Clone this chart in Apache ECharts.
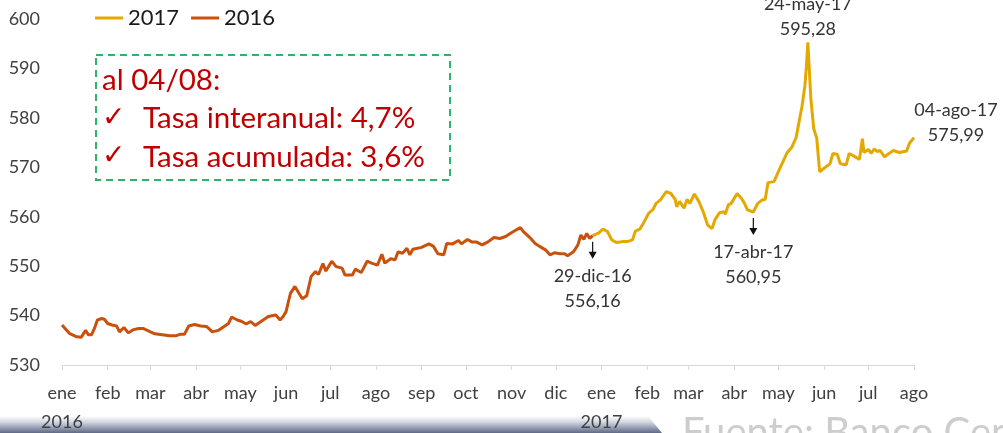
<!DOCTYPE html>
<html>
<head>
<meta charset="utf-8">
<script src="https://cdn.jsdelivr.net/npm/echarts@6/dist/echarts.min.js"></script>
<style>
  html, body { margin: 0; padding: 0; background: #fff; }
  #chart { width: 1003px; height: 433px; }
</style>
</head>
<body>
<div id="chart"></div>
<script>
// tipo de cambio diario (colones por dólar)
const dates2016 = [
  '2016-01-04','2016-01-07','2016-01-09','2016-01-14','2016-01-17','2016-01-20','2016-01-22','2016-01-24','2016-01-26','2016-01-28','2016-01-31',
  '2016-02-02','2016-02-04','2016-02-07','2016-02-10','2016-02-12','2016-02-15','2016-02-18','2016-02-21','2016-02-25','2016-02-28',
  '2016-03-04','2016-03-07','2016-03-12','2016-03-17','2016-03-21','2016-03-22','2016-03-24','2016-03-27','2016-03-30',
  '2016-04-03','2016-04-07','2016-04-11','2016-04-15','2016-04-19','2016-04-22','2016-04-26','2016-04-28',
  '2016-05-02','2016-05-05','2016-05-08','2016-05-11','2016-05-14','2016-05-18','2016-05-23','2016-05-28','2016-05-31',
  '2016-06-02','2016-06-04','2016-06-06','2016-06-07','2016-06-10','2016-06-15','2016-06-18','2016-06-21','2016-06-24','2016-06-26','2016-06-29',
  '2016-07-01','2016-07-05','2016-07-08','2016-07-12','2016-07-14','2016-07-19','2016-07-21','2016-07-25','2016-07-29',
  '2016-08-01','2016-08-05','2016-08-08','2016-08-10','2016-08-14','2016-08-17','2016-08-19','2016-08-22','2016-08-25','2016-08-27','2016-08-29',
  '2016-09-04','2016-09-06','2016-09-09','2016-09-12','2016-09-15','2016-09-19','2016-09-21','2016-09-25','2016-09-29',
  '2016-10-01','2016-10-05','2016-10-08','2016-10-11','2016-10-15','2016-10-19','2016-10-23','2016-10-27','2016-10-31',
  '2016-11-03','2016-11-07','2016-11-10','2016-11-12','2016-11-17','2016-11-20','2016-11-23','2016-11-27','2016-11-30',
  '2016-12-03','2016-12-07','2016-12-10','2016-12-12','2016-12-16','2016-12-19','2016-12-21','2016-12-23','2016-12-25','2016-12-27','2016-12-29'
];
const values2016 = [
  538.1, 537.1, 536.4, 535.7, 535.6, 537.0, 536.1, 536.1, 537.4, 539.1, 539.4,
  539.2, 538.4, 538.1, 537.9, 536.7, 537.6, 536.5, 537.1, 537.4, 537.4,
  536.7, 536.3, 536.1, 535.9, 535.9, 536.3, 536.2, 536.2, 537.9,
  538.2, 537.9, 537.8, 536.7, 537.0, 537.6, 538.4, 539.7,
  539.1, 538.8, 538.3, 538.8, 538.0, 538.8, 539.8, 540.1, 539.1,
  539.8, 540.8, 543.3, 544.5, 545.9, 543.4, 544.0, 547.9, 548.9, 548.3, 550.5,
  549.0, 551.0, 549.9, 549.6, 548.2, 548.2, 549.4, 548.7, 551.0,
  550.6, 550.2, 552.4, 550.6, 551.5, 551.3, 552.9, 552.6, 553.6, 552.3, 553.4,
  553.8, 554.1, 554.5, 554.0, 552.5, 552.3, 554.6, 554.5, 555.2,
  554.5, 555.4, 554.9, 554.9, 554.3, 554.9, 555.8, 555.6, 556.0,
  556.6, 557.3, 557.8, 557.0, 555.6, 554.6, 554.0, 553.3, 552.3,
  552.7, 552.5, 552.5, 552.1, 552.9, 554.3, 556.3, 555.4, 556.6, 555.6, 556.16
];
// la serie 2017 arranca en el último dato de 2016 para que la línea sea continua
const dates2017 = [
  '2016-12-29',
  '2017-01-02','2017-01-05','2017-01-08','2017-01-11','2017-01-14','2017-01-19','2017-01-22','2017-01-25','2017-01-27','2017-01-30',
  '2017-02-02','2017-02-05','2017-02-08','2017-02-10','2017-02-13','2017-02-17','2017-02-20','2017-02-23','2017-02-24','2017-02-26',
  '2017-03-01','2017-03-03','2017-03-05','2017-03-08','2017-03-11','2017-03-14','2017-03-17','2017-03-20','2017-03-22','2017-03-25','2017-03-28','2017-03-29','2017-03-31',
  '2017-04-02','2017-04-06','2017-04-09','2017-04-11','2017-04-13','2017-04-17','2017-04-20','2017-04-23','2017-04-25','2017-04-27',
  '2017-05-01','2017-05-05','2017-05-10','2017-05-13','2017-05-16','2017-05-20','2017-05-22','2017-05-23','2017-05-24','2017-05-26','2017-05-28','2017-05-30',
  '2017-06-01','2017-06-04','2017-06-08','2017-06-10','2017-06-13','2017-06-15','2017-06-19','2017-06-21','2017-06-24','2017-06-28','2017-06-30',
  '2017-07-01','2017-07-04','2017-07-06','2017-07-08','2017-07-10','2017-07-12','2017-07-15','2017-07-18','2017-07-21','2017-07-25','2017-07-30',
  '2017-08-01','2017-08-04'
];
const values2017 = [
  556.16,
  556.7, 557.5, 557.0, 555.3, 554.8, 555.0, 555.0, 555.3, 557.1, 557.5,
  559.0, 560.7, 561.5, 562.7, 563.4, 565.1, 564.7, 563.5, 562.0, 563.1,
  561.7, 563.5, 562.7, 564.6, 563.1, 561.0, 558.3, 557.6, 559.4, 560.8, 561.0, 560.5, 562.4,
  562.7, 564.7, 563.7, 562.7, 561.4, 560.95, 562.7, 563.4, 563.5, 566.9,
  567.1, 569.8, 573.0, 574.0, 576.0, 582.3, 586.5, 590.4, 595.28, 584.0, 577.8, 575.9,
  569.1, 569.8, 570.7, 572.8, 572.6, 570.7, 570.5, 572.8, 572.3, 571.6, 575.8,
  573.0, 573.6, 572.8, 573.7, 573.2, 573.4, 572.1, 572.8, 573.4, 573.0, 573.3,
  574.9, 575.99
];

// marcas mensuales: el eje de fechas las pone cada mes desde el primer dato (día 4)
const tickDates = [
  '2016-01-04','2016-02-04','2016-03-04','2016-04-04','2016-05-04','2016-06-04','2016-07-04','2016-08-04','2016-09-04','2016-10-04','2016-11-04','2016-12-04',
  '2017-01-04','2017-02-04','2017-03-04','2017-04-04','2017-05-04','2017-06-04','2017-07-04','2017-08-04'
];
const tickLabels = ['ene','feb','mar','abr','may','jun','jul','ago','sep','oct','nov','dic',
                    'ene','feb','mar','abr','may','jun','jul','ago'];
const yearLabels = {0: '2016', 12: '2017'};

// puntos señalados
const noteDates = ['2016-12-29', '2017-04-17', '2017-05-24', '2017-08-04'];
const noteValues = [556.16, 560.95, 595.28, 575.99];
const noteTexts = ['29-dic-16\n556,16', '17-abr-17\n560,95', '24-may-17\n595,28', '04-ago-17\n575,99'];
const notePlaces = ['below', 'below', 'above', 'right'];

const boxLines = ['al 04/08:', 'Tasa interanual: 4,7%', 'Tasa acumulada: 3,6%'];

const FONT = 'Lato, "Open Sans", sans-serif';
const DAY = 86400000;
const ts = s => new Date(s + 'T00:00:00Z').getTime();
const pairs = (d, v) => d.map((s, i) => [ts(s), v[i]]);
const tickValues = tickDates.map(ts);

const chart = echarts.init(document.getElementById('chart'));

const option = {
  backgroundColor: '#fff',
  animation: false,
  textStyle: { fontFamily: FONT },
  color: ['#e4a900', '#c9510c'],
  legend: {
    data: ['2017', '2016'],
    left: 95,
    top: 7,
    padding: 0,
    icon: 'rect',
    itemWidth: 28,
    itemHeight: 3,
    itemGap: 12,
    textStyle: { fontSize: 22, color: '#1a1a1a', fontFamily: FONT }
  },
  grid: { left: 62, right: 89, top: 19, bottom: 68, outerBoundsMode: 'none' },
  xAxis: {
    // eje numérico sobre marcas de tiempo (ms)
    type: 'value',
    min: tickValues[0],
    max: tickValues[tickValues.length - 1],
    splitLine: { show: false },
    axisLine: { lineStyle: { color: '#d9d9d9', width: 1 } },
    axisTick: {
      show: true,
      length: 5,
      customValues: tickValues,
      lineStyle: { color: '#d9d9d9' }
    },
    axisLabel: {
      customValues: tickValues,
      fontSize: 18,
      color: '#404040',
      margin: 14,
      lineHeight: 29,
      hideOverlap: false,
      showMinLabel: true,
      showMaxLabel: true,
      formatter: function (value) {
        let idx = tickValues.findIndex(t => Math.abs(t - value) < DAY / 2);
        if (idx < 0) return '';
        return yearLabels[idx] ? tickLabels[idx] + '\n' + yearLabels[idx] : tickLabels[idx];
      }
    }
  },
  yAxis: {
    type: 'value',
    min: 530,
    max: 600,
    interval: 10,
    axisLine: { show: false },
    axisTick: { show: false },
    splitLine: { show: false },
    axisLabel: { fontSize: 18, color: '#404040', margin: 22 }
  },
  series: [
    {
      name: '2017',
      type: 'line',
      data: pairs(dates2017, values2017),
      showSymbol: false,
      lineStyle: { width: 3 },
      z: 3
    },
    {
      name: '2016',
      type: 'line',
      data: pairs(dates2016, values2016),
      showSymbol: false,
      lineStyle: { width: 3 },
      z: 2
    }
  ]
};
chart.setOption(option);

// cuadro de texto, flechas y etiquetas, ubicadas con la escala del gráfico
const graphics = [];

graphics.push({
  type: 'polygon',
  z: -10,
  silent: true,
  shape: { points: [[0, 416], [648, 416], [662, 433], [0, 433]] },
  style: {
    fill: new echarts.graphic.LinearGradient(0, 0, 0, 1, [
      { offset: 0, color: '#ffffff' },
      { offset: 0.35, color: '#d3d8e2' },
      { offset: 1, color: '#5e6a87' }
    ])
  }
});
graphics.push({
  type: 'text',
  z: -10,
  silent: true,
  style: { text: 'Fuente: Banco Central', x: 682, y: 413, fontSize: 40, fontFamily: FONT, fill: '#cdcdcd' }
});

graphics.push({
  type: 'rect',
  shape: { x: 96, y: 55, width: 354, height: 125 },
  style: { fill: 'none', stroke: '#2fb36b', lineWidth: 2, lineDash: [7, 5] }
});
graphics.push({
  type: 'text',
  style: { text: boxLines[0], x: 102, y: 80, verticalAlign: 'middle', fontSize: 29.5, fontFamily: FONT, fill: '#c00000' }
});
[1, 2].forEach(function (i) {
  const y = 80 + i * 38.5;
  graphics.push({
    type: 'text',
    style: { text: '✓', x: 102, y: y, verticalAlign: 'middle', fontSize: 28, fontWeight: 'bold', fontFamily: '"DejaVu Sans"', fill: '#c00000' }
  });
  graphics.push({
    type: 'text',
    style: { text: boxLines[i], x: 143, y: y, verticalAlign: 'middle', fontSize: 29.5, fontFamily: FONT, fill: '#c00000' }
  });
});

noteDates.forEach(function (d, i) {
  const p = chart.convertToPixel({ gridIndex: 0 }, [ts(d), noteValues[i]]);
  const px = p[0], py = p[1];
  const place = notePlaces[i];
  const textStyle = { text: noteTexts[i], fontSize: 18, fontFamily: FONT, fill: '#333', lineHeight: 25, align: 'center' };
  if (place === 'below') {
    graphics.push({
      type: 'line',
      shape: { x1: px, y1: py + 6, x2: px, y2: py + 18 },
      style: { stroke: '#111', lineWidth: 1.2 }
    });
    graphics.push({
      type: 'polygon',
      shape: { points: [[px - 4, py + 16], [px + 4, py + 16], [px, py + 23]] },
      style: { fill: '#111' }
    });
    textStyle.x = px;
    textStyle.y = py + 28;
    textStyle.verticalAlign = 'top';
  } else if (place === 'above') {
    textStyle.x = px;
    textStyle.y = py - 1;
    textStyle.verticalAlign = 'bottom';
  } else {
    textStyle.x = px + 42;
    textStyle.y = py + 10;
    textStyle.verticalAlign = 'bottom';
  }
  graphics.push({ type: 'text', style: textStyle });
});

chart.setOption({ graphic: graphics });
</script>
</body>
</html>
